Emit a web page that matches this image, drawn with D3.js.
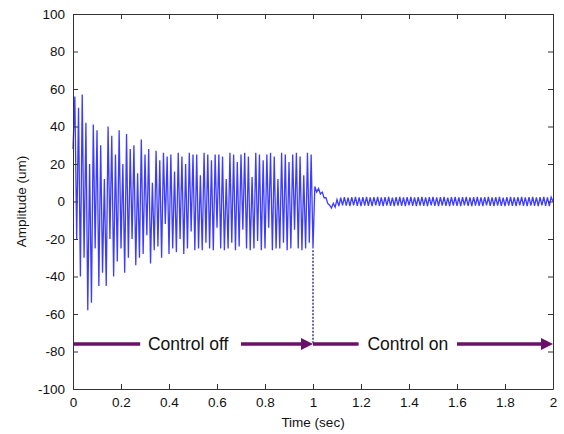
<!DOCTYPE html>
<html lang="en">
<head>
  <meta charset="UTF-8" />
  <title>Amplitude vs Time</title>
  <style>
    body { margin: 0; background: #fff; }
    svg { display: block; font-family: "Liberation Sans", Arial, sans-serif; }
    .axis path, .axis line { stroke: #333; }
    .axis text { font-size: 13.5px; fill: #111; }
  </style>
</head>
<body>
  <div id="chart"></div>

  <script src="https://d3js.org/d3.v7.min.js"></script>
  <script>
    // sample step (sec) for both parts of the record
    const sampleStep = 1 / 130;

    // amplitude (um), control off: t = 0 .. ~0.99
    const ampOff = [
      28, 56, -20, 50, -40, 57, -30, 42, -58, 20,
      -54, 41, -25, 38, -45, 30, -38, 12, -45, 40,
      -20, 35, -40, 25, -32, 38, -25, 20, -38, 36,
      -30, 28, -20, 30, -34, 15, -30, 33, -28, 25,
      -18, 28, -33, 10, -26, 27, -24, 22, -30, 26,
      -12, 24, -28, 25, -25, 16, -27, 26, -20, 24,
      -28, 20, -25, 26, -16, 25, -26, 25, -25, 14,
      -26, 26, -22, 25, -25, 22, -26, 25, -14, 25,
      -25, 24, -26, 12, -25, 26, -22, 25, -26, 21,
      -24, 25, -15, 26, -25, 24, -26, 13, -25, 26,
      -21, 25, -26, 22, -25, 25, -14, 26, -26, 24,
      -25, 12, -25, 26, -22, 25, -26, 21, -25, 25,
      -15, 26, -25, 24, -26, 14, -25, 26, -22, 25
    ];

    // amplitude (um), control on: t = 1.0 .. 2.0
    const ampOn = [
      -25, 8, 5, 7, 4, 5, 2, 2, -1, -2,
      -3.5, -1, -3, 1, -2.5, 2, -2, 2.3, -2.2, 2,
      -2.4, 2.3, -2.1, 2.4, -2.3, 2.2, -2.4, 2.3, -2.2, 2.4,
      -2.3, 2.2, -2.4, 2.3, -2.1, 2.4, -2.3, 2.2, -2.4, 2.3,
      -2.2, 2.4, -2.3, 2.1, -2.4, 2.3, -2.2, 2.4, -2.3, 2.2,
      -2.4, 2.3, -2.1, 2.4, -2.3, 2.2, -2.4, 2.3, -2.2, 2.4,
      -2.3, 2.2, -2.4, 2.3, -2.1, 2.4, -2.3, 2.2, -2.4, 2.3,
      -2.2, 2.4, -2.3, 2.1, -2.4, 2.3, -2.2, 2.4, -2.3, 2.2,
      -2.4, 2.3, -2.1, 2.4, -2.3, 2.2, -2.4, 2.3, -2.2, 2.4,
      -2.3, 2.2, -2.4, 2.3, -2.1, 2.4, -2.3, 2.2, -2.4, 2.3,
      -2.2, 2.4, -2.3, 2.1, -2.4, 2.3, -2.2, 2.4, -2.3, 2.2,
      -2.4, 2.3, -2.1, 2.4, -2.3, 2.2, -2.4, 2.3, -2.2, 2.4,
      -2.3, 2.2, -2.4, 2.3, -2.1, 2.4, -2.3, 2.2, -2.4, 2.3,
      0
    ];

    const xTicks = [0, 0.2, 0.4, 0.6, 0.8, 1, 1.2, 1.4, 1.6, 1.8, 2];
    const yTicks = [-100, -80, -60, -40, -20, 0, 20, 40, 60, 80, 100];

    // annotation: control switch and arrows
    const switchTime = 1;
    const switchFrom = -26;
    const arrowLevel = -76;
    const arrowSegs = [
      { from: 0, to: 0.28, head: false },
      { from: 0.7, to: 1, head: true },
      { from: 1, to: 1.19, head: false },
      { from: 1.6, to: 2, head: true }
    ];
    const arrowLabels = [
      { at: 0.48, text: "Control off" },
      { at: 1.395, text: "Control on" }
    ];

    const W = 564, H = 434;
    const margin = { top: 14, right: 11, bottom: 45, left: 73 };
    const width = W - margin.left - margin.right;
    const height = H - margin.top - margin.bottom;

    const svg = d3.select("#chart").append("svg")
      .attr("width", W).attr("height", H);
    const g = svg.append("g")
      .attr("transform", `translate(${margin.left},${margin.top})`);

    const x = d3.scaleLinear().domain([0, 2]).range([0, width]);
    const y = d3.scaleLinear().domain([-100, 100]).range([height, 0]);

    const series = ampOff.map((v, i) => ({ t: i * sampleStep, v }))
      .concat(ampOn.map((v, i) => ({ t: switchTime + i * sampleStep, v })));

    g.append("path")
      .datum(series)
      .attr("fill", "none")
      .attr("stroke", "#1a1aff")
      .attr("stroke-opacity", 0.85)
      .attr("stroke-width", 1.3)
      .attr("d", d3.line().x(d => x(d.t)).y(d => y(d.v)));

    // dashed switch line
    g.append("line")
      .attr("x1", x(switchTime)).attr("x2", x(switchTime))
      .attr("y1", y(switchFrom)).attr("y2", y(arrowLevel))
      .attr("stroke", "#2b3f8f")
      .attr("stroke-width", 1.5)
      .attr("stroke-dasharray", "2,1.5");

    const purple = "#6b1069";
    arrowSegs.forEach(s => {
      const x1 = x(s.to) - (s.head ? 8 : 0);
      g.append("line")
        .attr("x1", x(s.from)).attr("x2", x1)
        .attr("y1", y(arrowLevel)).attr("y2", y(arrowLevel))
        .attr("stroke", purple).attr("stroke-width", 3.5);
      if (s.head) {
        const tx = x(s.to), ty = y(arrowLevel);
        g.append("path")
          .attr("d", `M${tx},${ty} L${tx - 12},${ty - 6} L${tx - 12},${ty + 6} Z`)
          .attr("fill", purple);
      }
    });

    g.selectAll(".ann")
      .data(arrowLabels)
      .enter()
      .append("text")
      .attr("x", d => x(d.at))
      .attr("y", y(arrowLevel))
      .attr("dy", "0.36em")
      .attr("text-anchor", "middle")
      .attr("font-size", "17.5px")
      .attr("fill", "#111")
      .text(d => d.text);

    // axes (MATLAB style box with inward ticks)
    const fmt = d => String(d);
    g.append("g").attr("class", "axis")
      .attr("transform", `translate(0,${height})`)
      .call(d3.axisBottom(x).tickValues(xTicks).tickFormat(fmt)
        .tickSizeInner(-5).tickSizeOuter(0).tickPadding(8));
    g.append("g").attr("class", "axis")
      .call(d3.axisTop(x).tickValues(xTicks).tickFormat("")
        .tickSizeInner(-5).tickSizeOuter(0));
    g.append("g").attr("class", "axis")
      .call(d3.axisLeft(y).tickValues(yTicks).tickFormat(fmt)
        .tickSizeInner(-5).tickSizeOuter(0).tickPadding(8));
    g.append("g").attr("class", "axis")
      .attr("transform", `translate(${width},0)`)
      .call(d3.axisRight(y).tickValues(yTicks).tickFormat("")
        .tickSizeInner(-5).tickSizeOuter(0));

    svg.append("text")
      .attr("x", margin.left + width / 2)
      .attr("y", 427)
      .attr("text-anchor", "middle")
      .attr("font-size", "13.5px")
      .attr("fill", "#111")
      .text("Time (sec)");

    svg.append("text")
      .attr("transform", `translate(26,${margin.top + height / 2}) rotate(-90)`)
      .attr("text-anchor", "middle")
      .attr("font-size", "13.5px")
      .attr("fill", "#111")
      .text("Amplitude (um)");
  </script>
</body>
</html>
